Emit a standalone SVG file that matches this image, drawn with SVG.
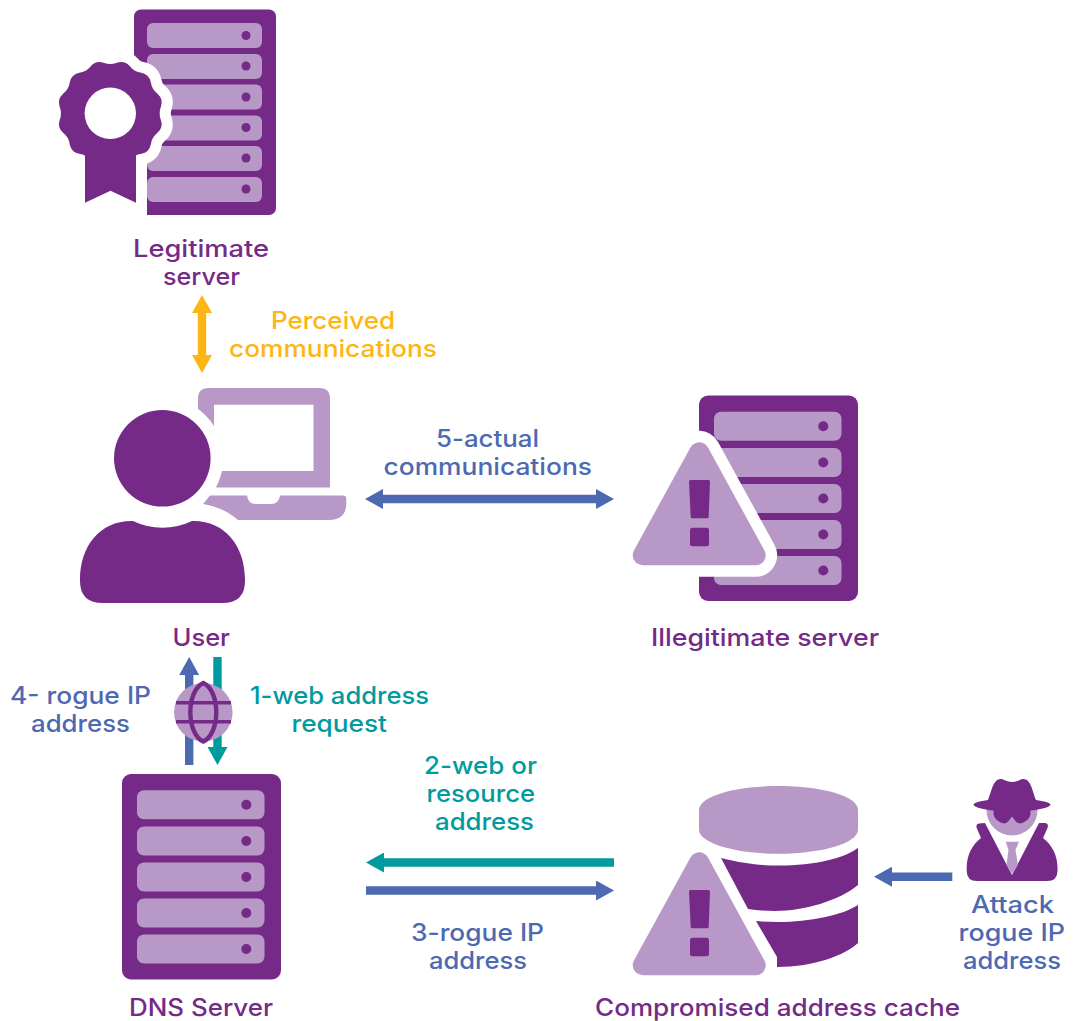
<svg xmlns="http://www.w3.org/2000/svg" width="1077" height="1021" viewBox="0 0 1077 1021">
<style>
.d{fill:#752a88}.l{fill:#b798c6}.w{fill:#fff}
text{font-family:Inter,"Open Sans","Liberation Sans",sans-serif;font-size:24px;font-weight:500}
.tp{fill:#752a88}.tb{fill:#4d69b1}.tt{fill:#009b9e}.ty{fill:#fdb515}
.c{fill:none;stroke-width:8.4}
</style>
<defs>
<marker id="mb" viewBox="0 0 18 20" refX="0.5" refY="10" markerWidth="18" markerHeight="20" markerUnits="userSpaceOnUse" orient="auto-start-reverse"><path d="M0,0L18,10L0,20Z" fill="#4d69b1"/></marker>
<marker id="mt" viewBox="0 0 18 20" refX="0.5" refY="10" markerWidth="18" markerHeight="20" markerUnits="userSpaceOnUse" orient="auto-start-reverse"><path d="M0,0L18,10L0,20Z" fill="#009b9e"/></marker>
<marker id="my" viewBox="0 0 18 20" refX="0.5" refY="10" markerWidth="18" markerHeight="20" markerUnits="userSpaceOnUse" orient="auto-start-reverse"><path d="M0,0L18,10L0,20Z" fill="#fdb515"/></marker>
<path id="scallop" d="M50.62,-6.66Q48,0 50.62,6.66Q53.13,14.24 47.17,19.54Q41.57,24 40.51,31.08Q38.89,38.89 31.08,40.51Q24,41.57 19.54,47.17Q14.24,53.13 6.66,50.62Q0,48 -6.66,50.62Q-14.24,53.13 -19.54,47.17Q-24,41.57 -31.08,40.51Q-38.89,38.89 -40.51,31.08Q-41.57,24 -47.17,19.54Q-53.13,14.24 -50.62,6.66Q-48,0 -50.62,-6.66Q-53.13,-14.24 -47.17,-19.54Q-41.57,-24 -40.51,-31.08Q-38.89,-38.89 -31.08,-40.51Q-24,-41.57 -19.54,-47.17Q-14.24,-53.13 -6.66,-50.62Q0,-48 6.66,-50.62Q14.24,-53.13 19.54,-47.17Q24,-41.57 31.08,-40.51Q38.89,-38.89 40.51,-31.08Q41.57,-24 47.17,-19.54Q53.13,-14.24 50.62,-6.66Z"/>
<g id="srv5">
<rect class="d" x="0" y="0" width="159" height="205.5" rx="9"/>
<g class="l"><rect x="15" y="16.2" width="127.5" height="29" rx="7"/><rect x="15" y="52.5" width="127.5" height="29" rx="7"/><rect x="15" y="88.5" width="127.5" height="29" rx="7"/><rect x="15" y="124.5" width="127.5" height="29" rx="7"/><rect x="15" y="160.5" width="127.5" height="29" rx="7"/></g>
<g class="d"><circle cx="124.3" cy="30.7" r="5"/><circle cx="124.3" cy="67" r="5"/><circle cx="124.3" cy="103" r="5"/><circle cx="124.3" cy="139" r="5"/><circle cx="124.3" cy="175" r="5"/></g>
</g>
<g id="warn">
<path class="l" d="M699.2,452.3L755.7,555.3H642.7Z" stroke="#b798c6" stroke-width="20" stroke-linejoin="round"/>
<path class="d" d="M690.5,480H708.5Q710,480 710,481.5L708.7,516.8Q708.6,518.3 707.2,518.3H692.2Q690.8,518.3 690.7,516.8L689,481.5Q689,480 690.5,480Z"/>
<rect class="d" x="690" y="527.7" width="19" height="18.6" rx="2.5"/>
</g>
</defs>

<g id="connectors">
<line class="c" stroke="#fdb515" x1="202" y1="312.5" x2="202" y2="355.5" marker-start="url(#my)" marker-end="url(#my)"/>
<line class="c" stroke="#4d69b1" x1="382.5" y1="499" x2="596.5" y2="499" marker-start="url(#mb)" marker-end="url(#mb)"/>
<line class="c" stroke="#4d69b1" x1="189.2" y1="765" x2="189.2" y2="674.5" marker-end="url(#mb)"/>
<line class="c" stroke="#009b9e" x1="217.5" y1="657" x2="217.5" y2="747.5" marker-end="url(#mt)"/>
<line class="c" stroke="#009b9e" x1="614" y1="862.5" x2="383.5" y2="862.5" marker-end="url(#mt)"/>
<line class="c" stroke="#4d69b1" x1="366" y1="890.5" x2="596.5" y2="890.5" marker-end="url(#mb)"/>
<line class="c" stroke="#4d69b1" x1="952.3" y1="876.7" x2="891.5" y2="876.7" marker-end="url(#mb)"/>
</g>

<g id="legitimate-server">
<rect class="d" x="134" y="9.5" width="142" height="205.5" rx="7"/>
<g class="l"><rect x="147" y="23" width="115" height="25" rx="6"/><rect x="147" y="54" width="115" height="25" rx="6"/><rect x="147" y="84.5" width="115" height="25" rx="6"/><rect x="147" y="115.5" width="115" height="25" rx="6"/><rect x="147" y="146" width="115" height="25" rx="6"/><rect x="147" y="177" width="115" height="25" rx="6"/></g>
<g class="d"><circle cx="246" cy="35.5" r="4.5"/><circle cx="246" cy="66" r="4.5"/><circle cx="246" cy="97" r="4.5"/><circle cx="246" cy="127.5" r="4.5"/><circle cx="246" cy="158" r="4.5"/><circle cx="246" cy="189" r="4.5"/></g>
<use href="#scallop" x="110.3" y="113.3" class="w" stroke="#fff" stroke-width="22" stroke-linejoin="round"/>
<rect class="w" x="125" y="150" width="22" height="70"/>
<use href="#scallop" x="110.3" y="113.3" class="d"/>
<path class="d" d="M85,150H136V202.7L110.5,190.7L85,202.7Z"/>
<circle class="w" cx="110.3" cy="113.3" r="25.7"/>
<text class="tp" x="133" y="257" textLength="136" lengthAdjust="spacingAndGlyphs">Legitimate</text>
<text class="tp" x="163" y="285" textLength="77" lengthAdjust="spacingAndGlyphs">server</text>
</g>

<g id="user">
<path class="l" d="M198,398.5Q198,388 208.5,388H319.5Q330,388 330,398.5V487.5H198ZM214,404.7V471H313.5V404.7Z" fill-rule="evenodd"/>
<circle class="w" cx="162.3" cy="458.3" r="61"/>
<path class="l" d="M210,495.5H247Q248,504 256,504H271Q279,504 280,495.5H343Q346.3,495.5 346.3,498.5V503Q346.3,520 329,520H238C228,511 215,506 203,504Z"/>
<circle class="d" cx="162.3" cy="458.3" r="48.3"/>
<path class="d" d="M133,521A68,68 0 0 0 192,521C224,520 245,545 245,580V581Q245,603 222,603H103Q80,603 80,581V580C80,545 101,520 133,521Z"/>
<text class="tp" x="172.5" y="646" textLength="57.5" lengthAdjust="spacingAndGlyphs">User</text>
</g>

<g id="illegitimate-server">
<use href="#srv5" x="699" y="395.5"/>
<path class="w" stroke="#fff" stroke-width="43" stroke-linejoin="round" d="M699.2,452.3L755.7,555.3H642.7Z"/>
<use href="#warn"/>
<text class="tp" x="651" y="646" textLength="228" lengthAdjust="spacingAndGlyphs">Illegitimate server</text>
</g>

<g id="globe">
<circle class="l" cx="203.3" cy="712.3" r="29.3"/>
<path fill="none" stroke="#752a88" stroke-width="3.4" d="M176,702.7H231M176,721.7H231"/>
<path fill="none" stroke="#752a88" stroke-width="4.4" d="M203.3,683C186,691 186,733.6 203.3,741.6C220.6,733.6 220.6,691 203.3,683Z"/>
</g>

<g id="dns-server">
<use href="#srv5" x="122" y="774"/>
<text class="tp" x="129" y="1016" textLength="144" lengthAdjust="spacingAndGlyphs">DNS Server</text>
</g>

<g id="compromised-cache">
<path class="l" d="M699,810C699,796 735,786 778.5,786C822,786 858,796 858,810V829.7C858,843 822,853.7 778.5,853.7C735,853.7 699,843 699,829.7Z"/>
<path class="d" d="M721,858C745,864 762,865.5 778.5,865.5C815,865.5 845,858 858,847.7V885C840,900 805,911 775,911Q760,911 748,909Z"/>
<path class="d" d="M756,921Q765,922 778,922C810,922 843,915 858,905V943C845,955 815,967 777,967V957Z"/>
<use href="#warn" y="410"/>
<text class="tp" x="595" y="1016" textLength="365" lengthAdjust="spacingAndGlyphs">Compromised address cache</text>
</g>

<g id="attacker">
<circle class="l" cx="1012" cy="810" r="25.5"/>
<path class="d" d="M988,800C992,790 993,778 1002,779Q1008,782 1012,782Q1016,782 1022,779C1031,778 1032,790 1036,800C1044,801 1050.5,803 1050.5,804.5C1050.5,808 1033,811.5 1012,811.5C991,811.5 973.5,808 973.5,804.5C973.5,803 980,801 988,800Z"/>
<path class="d" d="M994,809H1030Q1032,817 1026,821Q1019,826 1015,820.5L1012,816.5L1009,820.5Q1005,826 998,821Q992,817 994,809Z"/>
<path class="d" d="M985,823L1012,875L1039,823H1045Q1049,823.5 1047.5,828L1043,838C1052,845 1057.5,855 1057.5,868V871Q1057.5,881 1047,881H977Q966.7,881 966.7,871V868C966.7,855 972,845 981,838L976.7,828Q975.5,824 979,823.5Z"/>
<path class="l" d="M1005.7,841.7H1019L1015.5,850L1018,865L1012,874L1006.5,865L1008.5,850Z"/>
</g>

<g id="labels">
<text class="ty" x="271" y="329" textLength="124" lengthAdjust="spacingAndGlyphs">Perceived</text>
<text class="ty" x="229" y="357" textLength="208" lengthAdjust="spacingAndGlyphs">communications</text>
<text class="tb" x="436" y="447" textLength="103" lengthAdjust="spacingAndGlyphs">5-actual</text>
<text class="tb" x="383.5" y="475" textLength="208.5" lengthAdjust="spacingAndGlyphs">communications</text>
<text class="tb" x="10" y="704" textLength="141" lengthAdjust="spacingAndGlyphs">4- rogue IP</text>
<text class="tb" x="31" y="732" textLength="99" lengthAdjust="spacingAndGlyphs">address</text>
<text class="tt" x="250" y="704" textLength="179" lengthAdjust="spacingAndGlyphs">1-web address</text>
<text class="tt" x="291.5" y="732" textLength="95.5" lengthAdjust="spacingAndGlyphs">request</text>
<text class="tt" x="424" y="774" textLength="113" lengthAdjust="spacingAndGlyphs">2-web or</text>
<text class="tt" x="426.5" y="802" textLength="108.5" lengthAdjust="spacingAndGlyphs">resource</text>
<text class="tt" x="435" y="830" textLength="99" lengthAdjust="spacingAndGlyphs">address</text>
<text class="tb" x="411" y="941" textLength="133" lengthAdjust="spacingAndGlyphs">3-rogue IP</text>
<text class="tb" x="429" y="969" textLength="98" lengthAdjust="spacingAndGlyphs">address</text>
<text class="tb" x="971" y="913" textLength="83" lengthAdjust="spacingAndGlyphs">Attack</text>
<text class="tb" x="958.5" y="941" textLength="106.5" lengthAdjust="spacingAndGlyphs">rogue IP</text>
<text class="tb" x="963" y="969" textLength="98" lengthAdjust="spacingAndGlyphs">address</text>
</g>
</svg>
